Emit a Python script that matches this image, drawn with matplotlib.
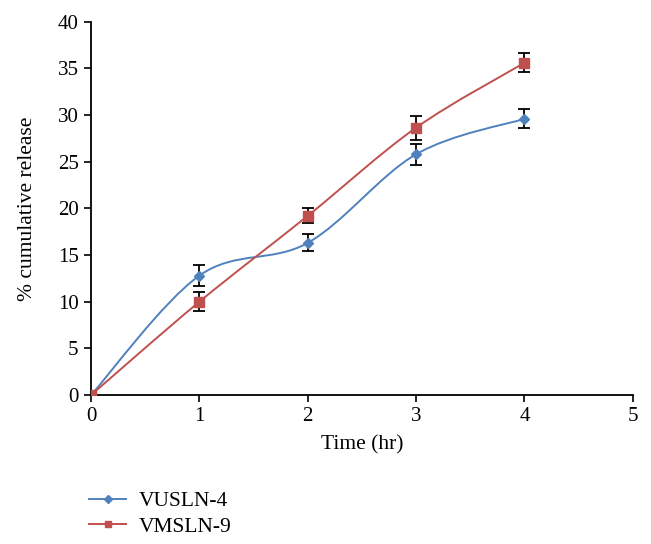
import numpy as np
import matplotlib
matplotlib.use("Agg")
import matplotlib.pyplot as plt
from matplotlib.path import Path
from matplotlib.patches import PathPatch
from matplotlib.lines import Line2D

plt.rcParams['font.family'] = ['Liberation Serif', 'DejaVu Serif']

time_hr = [0, 1, 2, 3, 4]
vusln4 = [0, 12.8, 16.3, 25.8, 29.6]
vusln4_err = [0, 1.1, 0.9, 1.1, 1.0]
vmsln9 = [0, 10.0, 19.2, 28.65, 35.6]
vmsln9_err = [0, 1.0, 0.8, 1.3, 1.0]

blue = '#4F81BD'
red = '#C0504D'


def smooth_path(x, y):
    # excel-like smoothed line: cubic bezier segments through the points
    pts = np.column_stack([x, y]).astype(float)
    verts = [pts[0]]
    codes = [Path.MOVETO]
    n = len(pts)
    for i in range(n - 1):
        p0 = pts[max(i - 1, 0)]
        p1 = pts[i]
        p2 = pts[i + 1]
        p3 = pts[min(i + 2, n - 1)]
        c1 = p1 + (p2 - p0) / 6
        c2 = p2 - (p3 - p1) / 6
        verts += [c1, c2, p2]
        codes += [Path.CURVE4] * 3
    return Path(verts, codes)


fig = plt.figure(figsize=(6.51, 5.44), dpi=100)
ax = fig.add_axes([0.14, 0.274, 0.832, 0.686])

for ys, err, col, mk, ms in [(vusln4, vusln4_err, blue, 'D', 5.5),
                              (vmsln9, vmsln9_err, red, 's', 6.5)]:
    ax.add_patch(PathPatch(smooth_path(time_hr, ys), facecolor='none',
                           edgecolor=col, lw=1.4, zorder=2))
    ax.errorbar(time_hr, ys, yerr=err, fmt='none', ecolor='black',
                elinewidth=1.3, capsize=4, capthick=1.3, zorder=3)
    ax.plot(time_hr, ys, linestyle='none', marker=mk, color=col,
            markersize=ms, zorder=4)

ax.set_xlim(0, 5)
ax.set_ylim(0, 40)
ax.set_xticks(range(0, 6))
ax.set_yticks(range(0, 41, 5))
ax.spines['top'].set_visible(False)
ax.spines['right'].set_visible(False)
ax.spines['left'].set_linewidth(1.3)
ax.spines['bottom'].set_linewidth(1.3)
ax.tick_params(direction='out', length=5, width=1.2, labelsize=15, pad=4)
ax.set_xlabel('Time (hr)', fontsize=15.5, labelpad=6)
ax.set_ylabel('% cumulative release', fontsize=15.5, labelpad=15)

handles = [Line2D([], [], color=blue, marker='D', markersize=4, lw=1.4),
           Line2D([], [], color=red, marker='s', markersize=5, lw=1.4)]
fig.legend(handles, ['VUSLN-4', 'VMSLN-9'], loc='upper left',
           bbox_to_anchor=(0.124, 0.113), frameon=False, fontsize=15.5,
           handlelength=1.7, handletextpad=0.6, labelspacing=0.25,
           borderaxespad=0)

fig.savefig('out.png', dpi=100)
